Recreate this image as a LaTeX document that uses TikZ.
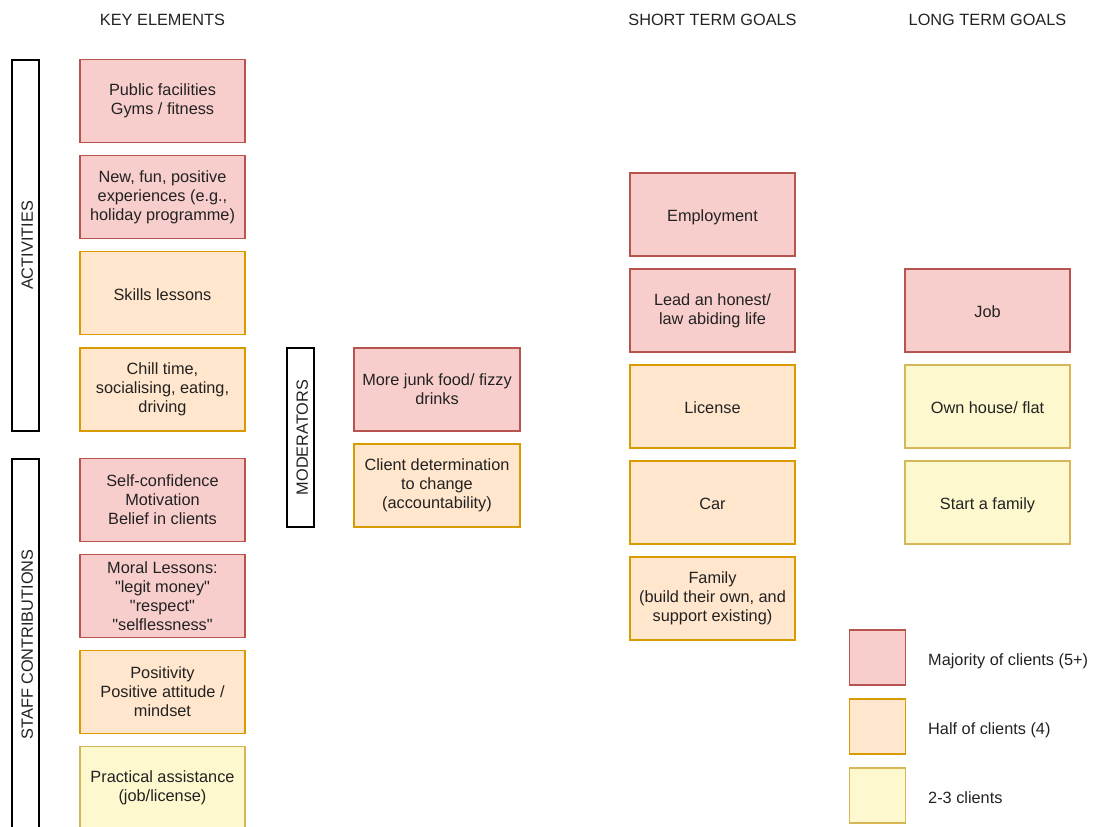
\documentclass[tikz,border=0pt]{standalone}
\usepackage{fontspec}
\setmainfont{Liberation Sans}[Ligatures=TeXOff]
\definecolor{txt}{HTML}{222222}
\definecolor{redfill}{HTML}{F8CECC}\definecolor{redline}{HTML}{B85450}
\definecolor{orgfill}{HTML}{FFE6CC}\definecolor{orgline}{HTML}{D79B00}
\definecolor{yelfill}{HTML}{FEF8CE}\definecolor{yelline}{HTML}{D6B656}
\begin{document}
\begin{tikzpicture}[x=1pt,y=-1pt,
  every node/.style={font=\fontsize{16.3}{19}\selectfont, text=txt, align=center, inner sep=0pt},
  oneline/.style={text height=16.5, text depth=2},
  card/.style={draw, line width=1.2pt, minimum width=165, minimum height=83},
  majority/.style={card, fill=redfill, draw=redline},
  half/.style={card, fill=orgfill, draw=orgline},
  few/.style={card, fill=yelfill, draw=yelline},
  swatch/.style={minimum width=56, minimum height=55},
  band/.style={draw=black, fill=white, line width=1.2pt, rotate=90, minimum height=27, oneline},
  header/.style={}
]
\useasboundingbox (0,0) rectangle (1093,827);

% column headers
\node[header] (hkey)   at (162.5,20) {KEY ELEMENTS};
\node[header] (hshort) at (712.5,20) {SHORT TERM GOALS};
\node[header] (hlong)  at (987.5,20) {LONG TERM GOALS};

% side bands
\node[band, minimum width=371] (act)   at (25.5,245.5) {ACTIVITIES};
\node[band, minimum width=371] (staff) at (25.5,644.5) {STAFF CONTRIBUTIONS};
\node[band, minimum width=179] (mod)   at (300.5,437.5) {MODERATORS};

% key elements: activities
\node[majority] (k1) at (162.5,101) {Public facilities\\Gyms / fitness};
\node[majority] (k2) at (162.5,197) {New, fun, positive\\experiences (e.g.,\\holiday programme)};
\node[half, oneline] (k3) at (162.5,293) {Skills lessons};
\node[half]     (k4) at (162.5,389.5) {Chill time,\\socialising, eating,\\driving};

% key elements: staff contributions
\node[majority] (k5) at (162.5,500) {Self-confidence\\Motivation\\Belief in clients};
\node[majority] (k6) at (162.5,596) {Moral Lessons:\\"legit money"\\"respect"\\"selflessness"};
\node[half]     (k7) at (162.5,692) {Positivity\\Positive attitude /\\mindset};
\node[few]      (k8) at (162.5,788) {Practical assistance\\(job/license)};

% moderators
\node[majority, minimum width=166] (m1) at (437,389.5) {More junk food/ fizzy\\drinks};
\node[half, minimum width=166]     (m2) at (437,485.5) {Client determination\\to change\\(accountability)};

% short term goals
\node[majority, oneline] (s1) at (712.5,214.5) {Employment};
\node[majority] (s2) at (712.5,310.5) {Lead an honest/\\law abiding life};
\node[half, oneline] (s3) at (712.5,406.5) {License};
\node[half, oneline] (s4) at (712.5,502.5) {Car};
\node[half]     (s5) at (712.5,598.5) {Family\\(build their own, and\\support existing)};

% long term goals
\node[majority, oneline] (l1) at (987.5,310.5) {Job};
\node[few, oneline] (l2) at (987.5,406.5) {Own house/ flat};
\node[few, oneline] (l3) at (987.5,502.5) {Start a family};

% legend
\node[majority, swatch] (g1) at (877.5,657.5) {};
\node[half, swatch]     (g2) at (877.5,726.5) {};
\node[few, swatch]      (g3) at (877.5,795.5) {};
\node[anchor=west, oneline] (g1t) at (928,658) {Majority of clients (5+)};
\node[anchor=west, oneline] (g2t) at (928,727) {Half of clients (4)};
\node[anchor=west, oneline] (g3t) at (928,796) {2-3 clients};
\end{tikzpicture}
\end{document}
